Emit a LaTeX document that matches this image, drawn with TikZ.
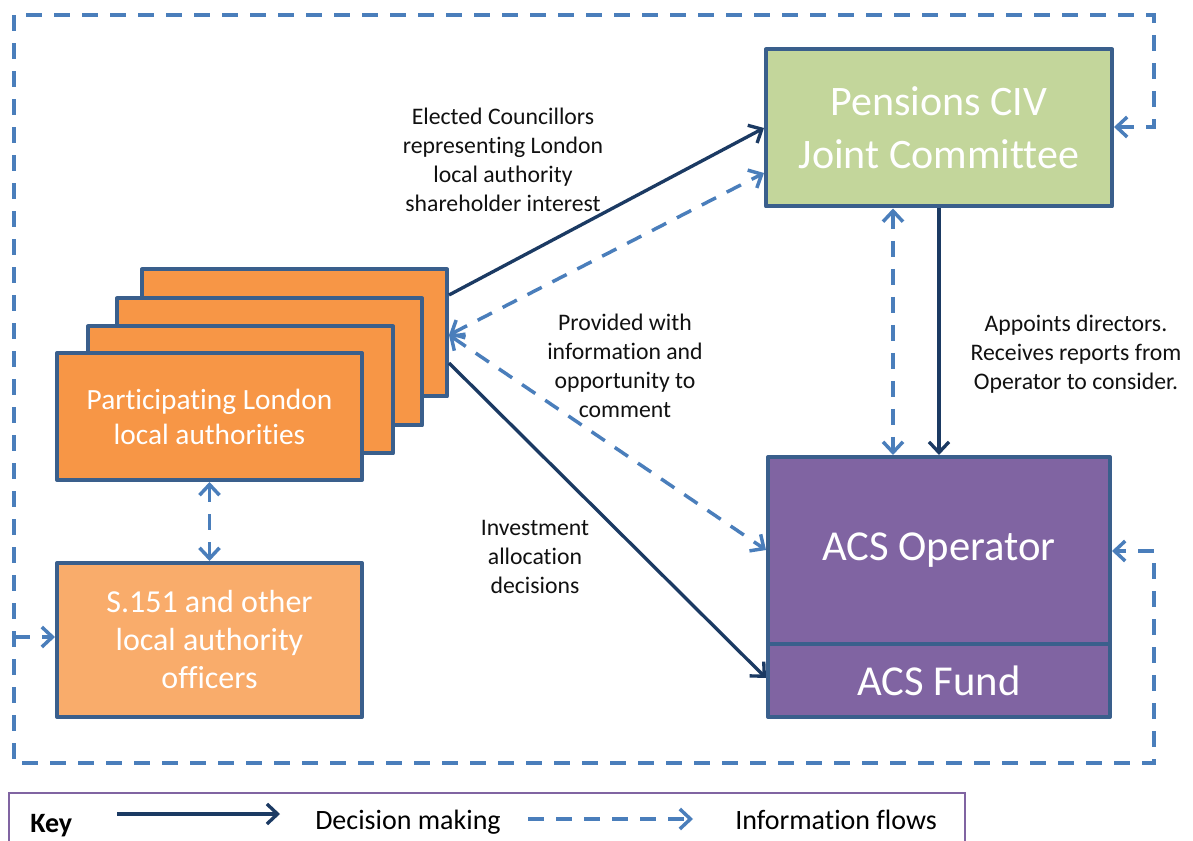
\documentclass[tikz,border=0pt]{standalone}
\usepackage{fontspec}
\setmainfont{Carlito}[Ligatures={NoCommon}]
\usetikzlibrary{arrows.meta,calc}
\definecolor{darkarrow}{HTML}{1B3A63}
\definecolor{infoblue}{HTML}{4A7EBB}
\definecolor{boxborder}{HTML}{3A5F8C}
\definecolor{pengreen}{HTML}{C3D69B}
\definecolor{laorange}{HTML}{F79646}
\definecolor{offorange}{HTML}{F9AC6B}
\definecolor{acspurple}{HTML}{8064A2}
\definecolor{labeltext}{HTML}{111111}
\begin{document}
\begin{tikzpicture}[x=0.75pt,y=-0.75pt,
  >={Straight Barb[length=8pt,width=15pt]},
  box/.style={draw=boxborder,line width=3pt,line join=round,inner sep=0pt,text=white,align=center},
  decision/.style={draw=darkarrow,line width=2.5pt,->},
  info/.style={draw=infoblue,line width=2.6pt,dash pattern=on 12pt off 9pt},
  lbl/.style={text=labeltext,align=center,font=\fontsize{17.8}{21.75}\selectfont},
]
\clip (0,0) rectangle (1193,841);
\fill[white] (0,0) rectangle (1193,841);

% stacked local authority boxes
\node[box,fill=laorange,minimum width=228.75pt,minimum height=95.25pt] (b4) at (294.5,333) {};
\node[box,fill=laorange,minimum width=228.75pt,minimum height=95.25pt] (b3) at (269.5,362) {};
\node[box,fill=laorange,minimum width=228.75pt,minimum height=95.25pt] (b2) at (240.5,390) {};
\node[box,fill=laorange,minimum width=228.75pt,minimum height=95.25pt,font=\fontsize{22}{26.25}\selectfont] (b1) at (209.5,416.5) {Participating London\\local authorities};

\node[box,fill=offorange,minimum width=228.75pt,minimum height=115.5pt,font=\fontsize{24}{28.5}\selectfont] (s151) at (209.5,640) {S.151 and other\\local authority\\officers};

\node[box,fill=pengreen,minimum width=259.5pt,minimum height=117.75pt,font=\fontsize{31.5}{39.5}\selectfont] (pen) at (939,128) {Pensions CIV\\Joint Committee};

\node[box,fill=acspurple,minimum width=256.5pt,minimum height=140.25pt,font=\fontsize{32}{36}\selectfont] (op) at (939,550.5) {ACS Operator};
\node[box,fill=acspurple,minimum width=256.5pt,minimum height=54.75pt,font=\fontsize{32}{36}\selectfont] (fund) at (939,680.5) {ACS Fund};

% outer information loop
\coordinate (c1) at (1154,127);
\coordinate (c2) at (1154,15);
\coordinate (c3) at (14,15);
\coordinate (c4) at (14,763);
\coordinate (c5) at (1154,763);
\coordinate (c6) at (1154,551);
\coordinate (c7) at (14,637);
\draw[info,<->] (pen.east |- c1) -- (c1) -- (c2) -- (c3) -- (c4) -- (c5) -- (c6) -- (op.east |- c6);
\draw[info,->] (c7) -- (s151.west |- c7);

% connectors
\draw[decision] (b4.east |- 0,295) -- (pen.west |- 0,128);
\draw[info,<->] (b4.east |- 0,335) -- (pen.west |- 0,173);
\draw[info,<->] (b4.east |- 0,335) -- (op.west |- 0,550);
\draw[decision] (b4.east |- 0,363) -- (fund.west |- 0,678);
\draw[info,<->] (pen.south -| 893,0) -- (op.north -| 893,0);
\draw[decision] (pen.south) -- (op.north);
\draw[info,<->] (b1.south) -- (s151.north);

% labels
\node[lbl] (l1) at (503,160) {Elected Councillors\\representing London\\local authority\\shareholder interest};
\node[lbl] (l2) at (625,366) {Provided with\\information and\\opportunity to\\comment};
\node[lbl] (l3) at (1076,354) {Appoints directors.\\Receives reports from\\Operator to consider.};
\node[lbl] (l4) at (535,557) {Investment\\allocation\\decisions};

% key
\node[draw=acspurple,line width=1.2pt,minimum width=717pt,minimum height=60pt,inner sep=0pt] (key) at (487,833) {};
\node[anchor=base west,font=\fontsize{21}{24}\selectfont\bfseries,text=black,inner sep=0pt] (keyt) at (30,832) {Key};
\coordinate (k1) at (117,814);
\coordinate (k2) at (280,814);
\coordinate (k3) at (528,819);
\coordinate (k4) at (693,819);
\draw[decision] (k1) -- (k2);
\draw[info,->] (k3) -- (k4);
\node[anchor=base west,font=\fontsize{21}{24}\selectfont,text=black,inner sep=0pt] (kd) at (315,829) {Decision making};
\node[anchor=base west,font=\fontsize{21}{24}\selectfont,text=black,inner sep=0pt] (ki) at (735,829) {Information flows};
\end{tikzpicture}
\end{document}
